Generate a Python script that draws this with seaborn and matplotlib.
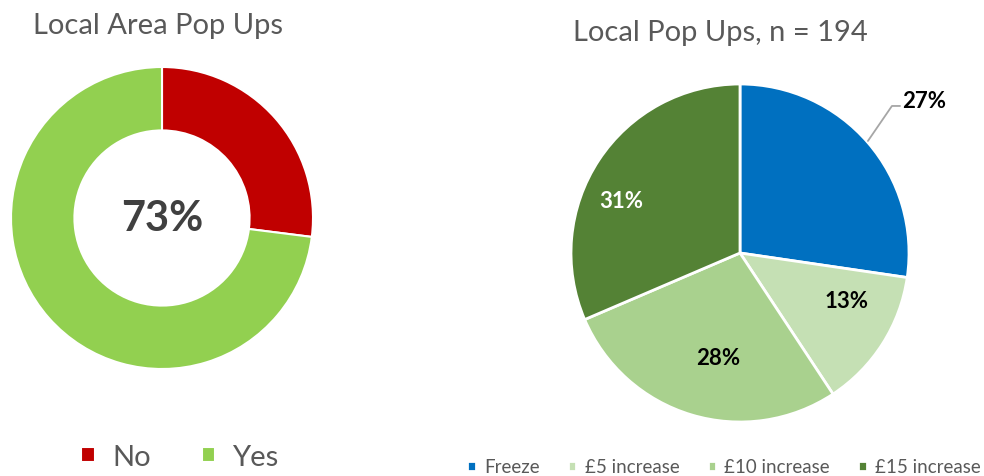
import matplotlib
matplotlib.use('Agg')
import matplotlib.pyplot as plt
import seaborn as sns

# dane
area_labels = ['No', 'Yes']
area_values = [27, 73]
area_colors = ['#C00000', '#92D050']

options = ['Freeze', '£5 increase', '£10 increase', '£15 increase']
option_counts = [53, 26, 54, 61]
option_colors = ['#0070C0', '#C5E0B4', '#A9D18E', '#548235']
n_total = sum(option_counts)

sns.set_theme(style='white')
plt.rcParams['font.family'] = ['Lato', 'DejaVu Sans']

grey = '#595959'
W, H = 984, 477
fig = plt.figure(figsize=(W / 100, H / 100), dpi=100)


def box(cx, cy, r):
    # pozycja osi w pikselach -> ulamki figury
    return [(cx - r) / W, (H - cy - r) / H, 2 * r / W, 2 * r / H]


# ---------------- donut ----------------
ax1 = fig.add_axes(box(162, 219, 151))
wedges1, _ = ax1.pie(area_values, colors=area_colors, startangle=90, counterclock=False,
                     radius=1, wedgeprops=dict(width=0.42, edgecolor='white', linewidth=1.5))
ax1.set_xlim(-1, 1)
ax1.set_ylim(-1, 1)
ax1.text(0, 0, f'{area_values[1]}%', ha='center', va='center', fontsize=30,
         fontweight='bold', color='#404040')
fig.text(158 / W, 1 - 26 / H, 'Local Area Pop Ups', ha='center', va='center',
         fontsize=21, color=grey)
fig.legend(wedges1, area_labels, loc='center', bbox_to_anchor=(180 / W, 1 - 458 / H),
           ncol=2, frameon=False, fontsize=21, labelcolor=grey, handlelength=0.45,
           handleheight=0.45, columnspacing=1.75, handletextpad=0.6)

# ---------------- pie ----------------
ax2 = fig.add_axes(box(740, 254, 169))
pct = [100 * c / n_total for c in option_counts]
wedges2, _, autotexts = ax2.pie(option_counts, colors=option_colors, startangle=90,
                                counterclock=False, radius=1,
                                autopct=lambda p: f'{p:.0f}%', pctdistance=0.68,
                                wedgeprops=dict(edgecolor='white', linewidth=2))
ax2.set_xlim(-1, 1)
ax2.set_ylim(-1, 1)

label_pos = [None, (0.63, -0.28), (-0.13, -0.62), (-0.70, 0.31)]
for t, pos, col in zip(autotexts, label_pos, ['black', 'black', 'black', 'white']):
    t.set_fontsize(16)
    t.set_fontweight('bold')
    t.set_color(col)
    if pos is not None:
        t.set_position(pos)

# etykieta 27% na zewnatrz z linia
autotexts[0].set_visible(False)
ax2.plot([0.757, 0.899, 0.947], [0.663, 0.870, 0.870], color='#A6A6A6', lw=1.3,
         clip_on=False)
ax2.text(0.962, 0.905, f'{pct[0]:.0f}%', ha='left', va='center', fontsize=16,
         fontweight='bold', color='black')

fig.text(720 / W, 1 - 33 / H, f'Local Pop Ups, n = {n_total}', ha='center', va='center',
         fontsize=21, color=grey)
fig.legend(wedges2, options, loc='center', bbox_to_anchor=(724 / W, 1 - 468 / H),
           ncol=4, frameon=False, fontsize=13.5, labelcolor=grey, handlelength=0.45,
           handleheight=0.45, columnspacing=1.5, handletextpad=0.45)

fig.savefig('out.png', dpi=100)
